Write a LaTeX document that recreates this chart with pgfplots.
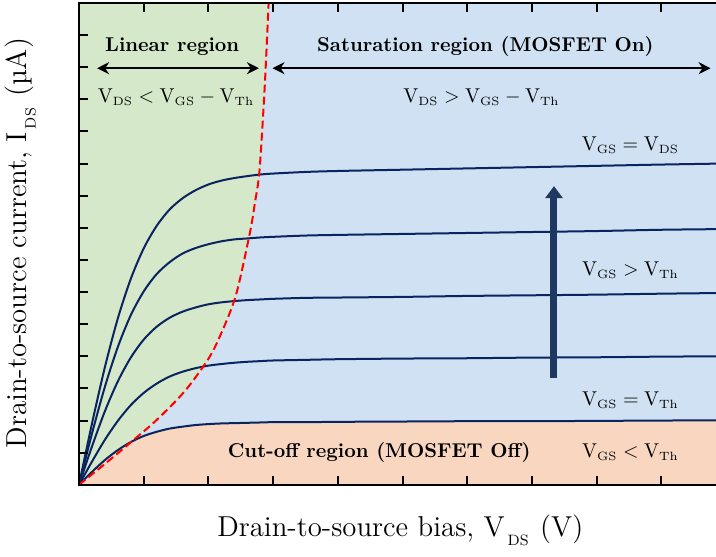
\documentclass[border=0pt]{standalone}
\usepackage{pgfplots}
\pgfplotsset{compat=1.18}
\usepgfplotslibrary{fillbetween}
\usetikzlibrary{arrows.meta}
\DeclareMathSizes{10}{10}{6.2}{5}
\definecolor{bgblue}{RGB}{207,225,242}
\definecolor{bggreen}{RGB}{213,232,201}
\definecolor{bgorange}{RGB}{248,214,192}
\definecolor{navy}{RGB}{10,36,96}
\definecolor{arrowblue}{RGB}{31,56,96}
\newcommand{\lsub}[1]{\hspace{1.5pt}\raisebox{-4.5pt}{\fontsize{7.5}{8}\selectfont #1}\hspace{1pt}}
\begin{document}
\begin{tikzpicture}
\begin{axis}[
  scale only axis, width=320pt, height=240.9pt,
  xmin=0, xmax=9.89, ymin=0, ymax=15.0,
  axis on top,
  axis background/.style={fill=bgblue},
  xtick={1,...,9}, ytick={1,...,14},
  xticklabels={}, yticklabels={},
  xtick pos=both, ytick pos=left,
  tick align=inside,
  major tick length=4.5pt,
  every tick/.style={black, line width=1pt},
  axis line style={line width=1.3pt},
  xlabel={Drain-to-source bias, V\lsub{DS} (V)},
  ylabel={Drain-to-source current, I\lsub{DS} (\textmu A)},
  xlabel style={at={(axis description cs:0.502,-0.0945)}, anchor=center, font=\Large},
  ylabel style={at={(axis description cs:-0.0914,0.5016)}, anchor=center, font=\Large},
]
% boundary paths
\addplot[draw=none, smooth, name path=redl] coordinates {
 (0,0) (0.4,0.65) (0.81,1.34) (1.19,2.0) (1.62,2.88) (1.97,3.83) (2.15,4.5)
 (2.42,5.87) (2.64,7.84) (2.72,8.8) (2.79,9.8) (2.87,12.4) (2.93,15.0)};
\addplot[draw=none, name path=topl] coordinates {(0,15.0) (2.93,15.0)};
\addplot[bggreen, draw=none] fill between[of=redl and topl];
% cut-off region
\addplot[draw=none, fill=bgorange, smooth] coordinates {
 (0,0) (0.2,0.40) (0.4,0.77) (0.6,1.08) (0.8,1.33) (1.0,1.52) (1.2,1.65) (1.4,1.75)
 (1.6,1.81) (1.8,1.86) (2.0,1.89) (2.2,1.91) (2.4,1.92) (2.6,1.93) (2.8,1.94)
 (3.0,1.95) (3.5,1.95) (4,1.96) (5,1.97) (6,1.98) (7,1.98) (8,1.99) (9,2.0) (9.89,2.01)} \closedcycle;
% curves
\addplot[navy, line width=1pt, smooth] coordinates {
 (0,0) (0.2,0.40) (0.4,0.77) (0.6,1.08) (0.8,1.33) (1.0,1.52) (1.2,1.65) (1.4,1.75)
 (1.6,1.81) (1.8,1.86) (2.0,1.89) (2.2,1.91) (2.4,1.92) (2.6,1.93) (2.8,1.94)
 (3.0,1.95) (3.5,1.95) (4,1.96) (5,1.97) (6,1.98) (7,1.98) (8,1.99) (9,2.0) (9.89,2.01)};
\addplot[navy, line width=1pt, smooth] coordinates {
 (0,0) (0.2,0.72) (0.4,1.40) (0.6,1.99) (0.8,2.48) (1.0,2.86) (1.2,3.15) (1.4,3.37)
 (1.6,3.52) (1.8,3.63) (2.0,3.71) (2.2,3.76) (2.4,3.80) (2.6,3.83) (2.8,3.85)
 (3.0,3.87) (3.5,3.89) (4,3.91) (5,3.93) (6,3.94) (7,3.96) (8,3.97) (9,3.99) (9.89,4.0)};
\addplot[navy, line width=1pt, smooth] coordinates {
 (0,0) (0.2,1.19) (0.4,2.29) (0.6,3.22) (0.8,3.96) (1.0,4.52) (1.2,4.92) (1.4,5.20)
 (1.6,5.39) (1.8,5.52) (2.0,5.62) (2.2,5.68) (2.4,5.72) (2.6,5.75) (2.8,5.77)
 (3.0,5.79) (3.5,5.82) (4,5.83) (5,5.85) (6,5.88) (7,5.90) (8,5.92) (9,5.95) (9.89,5.97)};
\addplot[navy, line width=1pt, smooth] coordinates {
 (0,0) (0.2,1.59) (0.4,3.05) (0.6,4.29) (0.8,5.28) (1.0,6.02) (1.2,6.56) (1.4,6.93)
 (1.6,7.20) (1.8,7.37) (2.0,7.49) (2.2,7.58) (2.4,7.64) (2.6,7.67) (2.8,7.70)
 (3.0,7.72) (3.5,7.76) (4,7.78) (5,7.81) (6,7.84) (7,7.87) (8,7.90) (9,7.94) (9.89,7.96)};
\addplot[navy, line width=1pt, smooth] coordinates {
 (0,0) (0.2,1.90) (0.4,3.66) (0.6,5.18) (0.8,6.41) (1.0,7.36) (1.2,8.06) (1.4,8.57)
 (1.6,8.92) (1.8,9.17) (2.0,9.35) (2.2,9.47) (2.4,9.55) (2.6,9.61) (2.8,9.66)
 (3.0,9.69) (3.5,9.74) (4,9.77) (5,9.81) (6,9.85) (7,9.89) (8,9.93) (9,9.97) (9.89,10.0)};
% red dashed boundary
\addplot[red, line width=1pt, dash pattern=on 4pt off 2pt, smooth] coordinates {
 (0,0) (0.4,0.65) (0.81,1.34) (1.19,2.0) (1.62,2.88) (1.97,3.83) (2.15,4.5)
 (2.42,5.87) (2.64,7.84) (2.72,8.8) (2.79,9.8) (2.87,12.4) (2.93,15.0)};
% annotations
\draw[line width=0.9pt, {Stealth[length=6pt,width=6pt]}-{Stealth[length=6pt,width=6pt]}]
  (axis cs:0.28,12.97) -- (axis cs:2.78,12.97);
\draw[line width=0.9pt, {Stealth[length=6pt,width=6pt]}-{Stealth[length=6pt,width=6pt]}]
  (axis cs:2.99,12.97) -- (axis cs:9.76,12.97);
\draw[arrowblue, line width=3.5pt, -{Triangle[length=6pt,width=8.5pt]}]
  (axis cs:7.34,3.34) -- (axis cs:7.34,9.30);
\node[font=\bfseries] at (axis cs:1.44,13.65) {Linear region};
\node[font=\bfseries] at (axis cs:6.28,13.65) {Saturation region (MOSFET On)};
\node[font=\bfseries] at (axis cs:4.64,1.01) {Cut-off region (MOSFET Off)};
\node at (axis cs:1.50,12.08) {$\mathrm{V_{DS}}<\mathrm{V_{GS}}-\mathrm{V_{Th}}$};
\node at (axis cs:6.22,12.08) {$\mathrm{V_{DS}}>\mathrm{V_{GS}}-\mathrm{V_{Th}}$};
\node at (axis cs:8.52,10.56) {$\mathrm{V_{GS}}=\mathrm{V_{DS}}$};
\node at (axis cs:8.52,6.68) {$\mathrm{V_{GS}}>\mathrm{V_{Th}}$};
\node at (axis cs:8.52,2.64) {$\mathrm{V_{GS}}=\mathrm{V_{Th}}$};
\node at (axis cs:8.52,1.03) {$\mathrm{V_{GS}}<\mathrm{V_{Th}}$};
\end{axis}
\pgfresetboundingbox
\path (-39.5pt,-35.6pt) rectangle (318.5pt,242.4pt);
\end{tikzpicture}
\end{document}
